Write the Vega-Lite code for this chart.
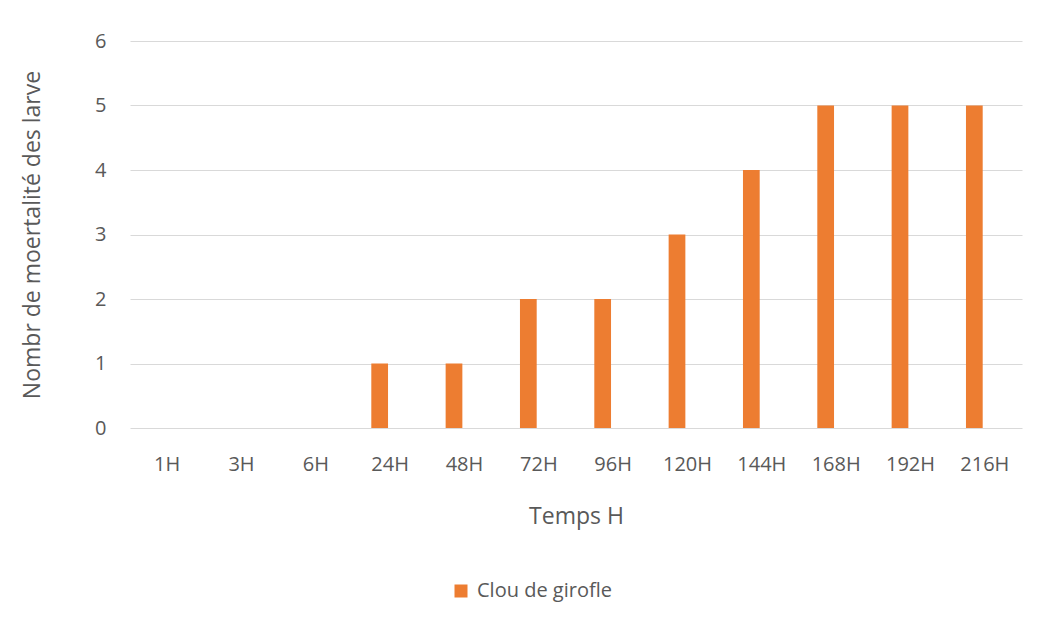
{
  "$schema": "https://vega.github.io/schema/vega-lite/v6.json",
  "width": 892,
  "height": 387,
  "autosize": {"type": "none"},
  "padding": {"left": 130, "top": 41, "right": 18, "bottom": 193},
  "background": "white",
  "data": {
    "values": [
      {"temps": "1H", "mortalite": 0, "serie": "Clou de girofle"},
      {"temps": "3H", "mortalite": 0, "serie": "Clou de girofle"},
      {"temps": "6H", "mortalite": 0, "serie": "Clou de girofle"},
      {"temps": "24H", "mortalite": 1, "serie": "Clou de girofle"},
      {"temps": "48H", "mortalite": 1, "serie": "Clou de girofle"},
      {"temps": "72H", "mortalite": 2, "serie": "Clou de girofle"},
      {"temps": "96H", "mortalite": 2, "serie": "Clou de girofle"},
      {"temps": "120H", "mortalite": 3, "serie": "Clou de girofle"},
      {"temps": "144H", "mortalite": 4, "serie": "Clou de girofle"},
      {"temps": "168H", "mortalite": 5, "serie": "Clou de girofle"},
      {"temps": "192H", "mortalite": 5, "serie": "Clou de girofle"},
      {"temps": "216H", "mortalite": 5, "serie": "Clou de girofle"}
    ]
  },
  "mark": {"type": "bar", "width": {"band": 0.225}, "xOffset": -10.5},
  "encoding": {
    "x": {
      "field": "temps",
      "type": "nominal",
      "sort": null,
      "scale": {"paddingInner": 0, "paddingOuter": 0},
      "axis": {
        "title": "Temps H",
        "labelAngle": 0,
        "ticks": false,
        "domain": false,
        "labelPadding": 26,
        "titlePadding": 31
      }
    },
    "y": {
      "field": "mortalite",
      "type": "quantitative",
      "scale": {"domain": [0, 6]},
      "axis": {
        "title": "Nombr de moertalité des larve",
        "values": [0, 1, 2, 3, 4, 5, 6],
        "ticks": false,
        "domain": false,
        "labelPadding": 24,
        "titlePadding": 50
      }
    },
    "color": {
      "field": "serie",
      "type": "nominal",
      "scale": {"range": ["#ED7D31"]},
      "legend": {
        "title": null,
        "orient": "none",
        "direction": "horizontal",
        "legendX": 321,
        "legendY": 540,
        "symbolType": "square",
        "symbolSize": 169,
        "symbolStrokeWidth": 0,
        "labelOffset": 6
      }
    }
  },
  "config": {
    "font": "Open Sans",
    "view": {"stroke": null},
    "axis": {
      "gridColor": "#d9d9d9",
      "gridWidth": 1,
      "labelColor": "#595959",
      "labelFontSize": 20,
      "labelFont": "Open Sans",
      "titleColor": "#595959",
      "titleFontSize": 23,
      "titleFontWeight": "normal",
      "titleFont": "Open Sans"
    },
    "axisX": {"grid": false},
    "legend": {
      "labelColor": "#595959",
      "labelFontSize": 20,
      "labelFont": "Open Sans"
    }
  }
}
